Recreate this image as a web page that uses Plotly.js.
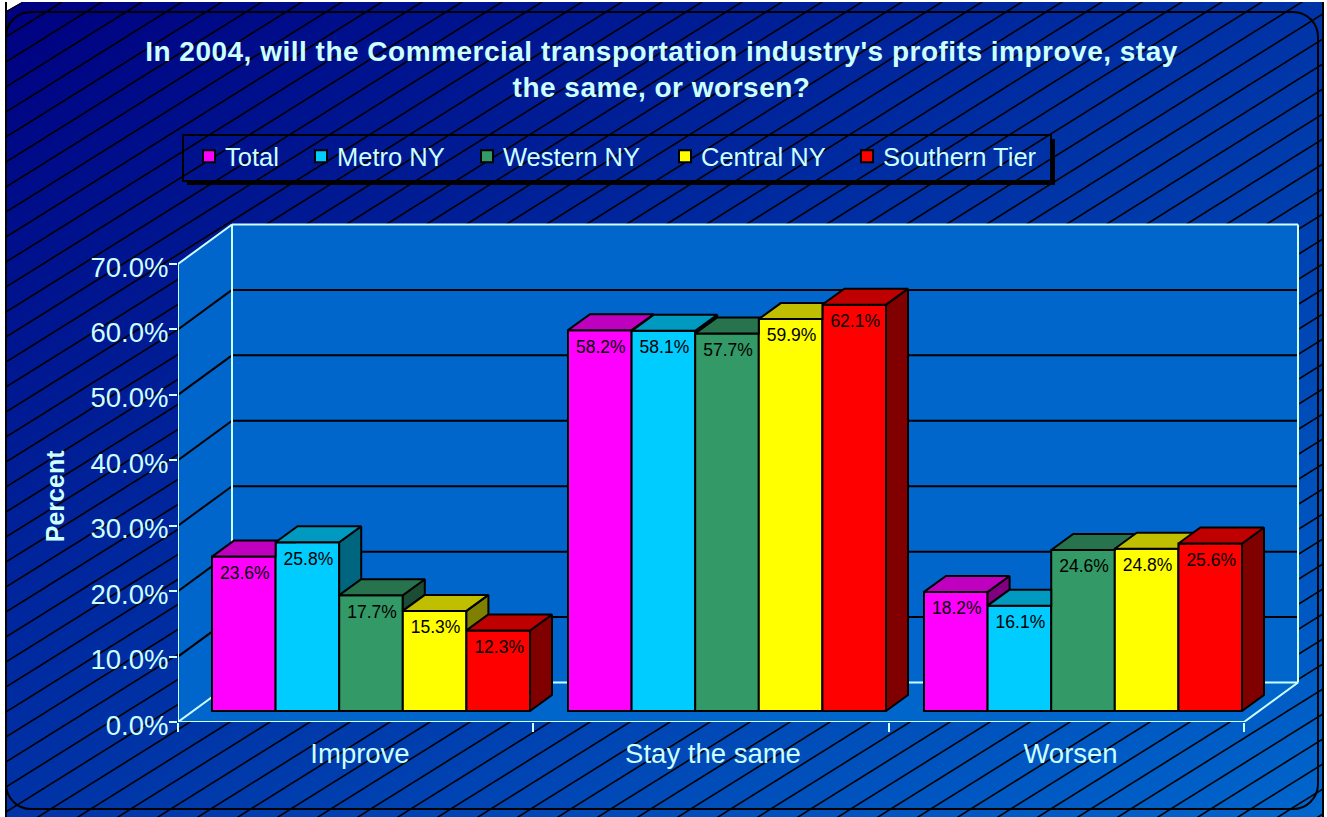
<!DOCTYPE html>
<html><head><meta charset="utf-8">
<script src="https://cdn.plot.ly/plotly-3.0.1.min.js"></script>
<style>
html,body{margin:0;padding:0;background:#fff;width:1327px;height:817px;overflow:hidden}
#bg{position:absolute;left:0;top:0}
#chart{position:absolute;left:0;top:0;width:1327px;height:817px}
.gtitle{letter-spacing:.5px}
</style></head><body>
<svg id="bg" width="1327" height="817" xmlns="http://www.w3.org/2000/svg">
<defs>
<linearGradient id="g" x1="0" y1="0" x2="1" y2="1"><stop offset="0" stop-color="#000080"/><stop offset="1" stop-color="#0066CC"/></linearGradient>
<pattern id="h" width="40" height="25" patternUnits="userSpaceOnUse" patternTransform="translate(6,12)">
<path d="M-10,31.25L50,-6.25M-10,6.25L10,-6.25M30,31.25L50,18.75" stroke="#000" stroke-width="1.5" fill="none"/>
</pattern></defs>
<path d="M6,11L22,2H1323V817H6Z" fill="url(#g)"/>
<path d="M6,11L22,2H1323V817H6Z" fill="url(#h)"/>
<path d="M6,2V817M1323,2V817" stroke="#000" stroke-width="2"/>
<rect x="6" y="12" width="1312" height="797" rx="25" ry="25" fill="none" stroke="#000" stroke-width="2"/>
</svg>
<div id="chart"></div>
<script>
const categories = ["Improve", "Stay the same", "Worsen"];
const seriesNames = ["Total", "Metro NY", "Western NY", "Central NY", "Southern Tier"];
const total = [23.6, 58.2, 18.2];
const metroNY = [25.8, 58.1, 16.1];
const westernNY = [17.7, 57.7, 24.6];
const centralNY = [15.3, 59.9, 24.8];
const southernTier = [12.3, 62.1, 25.6];
const yTicks = [0, 10, 20, 30, 40, 50, 60, 70];
const frontColors = ["#FF00FF", "#00CCFF", "#339966", "#FFFF00", "#FF0000"];
const topColors = ["#BF00BF", "#0099BF", "#26734D", "#BFBF00", "#BF0000"];
const sideColors = ["#800080", "#006680", "#1A4D33", "#808000", "#800000"];

const values = [total, metroNY, westernNY, centralNY, southernTier];
const LIGHT = "#CCFFFF";
const FONT = "Liberation Sans, Arial, sans-serif";

// scale (px per data unit) and plot box
const L = 178, R = 1302, T = 220, B = 722.5, W = 1327, H = 817;
const pxX = 356, pxY = 6.55, groupCentre0 = 371;
const xr = [(L - groupCentre0) / pxX, (R - groupCentre0) / pxX];
const yr = [0, (B - T) / pxY];
const toX = p => (p - groupCentre0) / pxX;   // pixel -> x
const wallDX = 54 / pxX, wallDY = 39.5 / pxY;
const barDX = 22 / pxX, barDY = 16 / pxY, baseOff = 11 / pxY;
const groupW = 318 / pxX, barW = groupW / 5;
const x0 = toX(178), x1 = toX(1244);
const yTop = yTicks[yTicks.length - 1];

const traces = [];
// front faces: real bars
values.forEach((v, s) => traces.push({
  type: "bar", name: seriesNames[s], x: [0, 1, 2], y: v,
  base: v.map(() => baseOff),
  marker: {color: frontColors[s], line: {color: "#000", width: 2}},
  hovertemplate: "%{fullData.name}: " + "%{customdata}%<extra></extra>", customdata: v
}));
// top and side faces
values.forEach((v, s) => {
  const tx = [], ty = [], sx = [], sy = [];
  v.forEach((val, g) => {
    const xa = g + (s - 2.5) * barW, xb = xa + barW;
    const yv = val + baseOff;
    const nextVal = s < 4 ? values[s + 1][g] + baseOff : baseOff;
    // top face, cut where the taller neighbour hides it
    if (nextVal > yv && s < 4) {
      const d = nextVal - yv;
      if (d >= barDY) {
        tx.push(xa, xb, xb, xa + barDX, xa, null);
        ty.push(yv, yv, yv + barDY, yv + barDY, yv, null);
      } else {
        tx.push(xa, xb, xb, xb + barDX * d / barDY, xb + barDX, xa + barDX, xa, null);
        ty.push(yv, yv, nextVal, nextVal, yv + barDY, yv + barDY, yv, null);
      }
    } else {
      tx.push(xa, xb, xb + barDX, xa + barDX, xa, null);
      ty.push(yv, yv, yv + barDY, yv + barDY, yv, null);
    }
    // side face, only above the neighbour
    if (nextVal < yv) {
      sx.push(xb, xb, xb + barDX, xb + barDX, xb, null);
      sy.push(nextVal, yv, yv + barDY, nextVal + barDY, nextVal, null);
    }
  });
  traces.push({type: "scatter", mode: "lines", x: sx, y: sy, fill: "toself", fillcolor: sideColors[s],
    line: {color: "#000", width: 2}, showlegend: false, hoverinfo: "skip"});
  traces.push({type: "scatter", mode: "lines", x: tx, y: ty, fill: "toself", fillcolor: topColors[s],
    line: {color: "#000", width: 2}, showlegend: false, hoverinfo: "skip"});
});
// data labels
values.forEach((v, s) => traces.push({
  type: "scatter", mode: "text", x: v.map((_, g) => g + (s - 2) * barW + 1 / pxX),
  y: v.map(val => val + baseOff - 18 / pxY), text: v.map(val => val.toFixed(1) + "%"),
  textposition: "middle center", textfont: {family: FONT, size: 17.5, color: "#000"},
  showlegend: false, hoverinfo: "skip"
}));
// outer axis lines (not clipped)
traces.push({type: "scatter", mode: "lines", cliponaxis: false, x: [x0, x0, x1], y: [yTop, 0, 0],
  line: {color: LIGHT, width: 2}, showlegend: false, hoverinfo: "skip"});

// walls, floor and gridlines below the bars
const shapes = [];
const poly = pts => "M" + pts.map(p => p[0] + "," + p[1]).join("L") + "Z";
const bx0 = x0 + wallDX, bx1 = x1 + wallDX;
const wallFill = "#0066CC";
[[[x0, 0], [bx0, wallDY], [bx0, yTop + wallDY], [x0, yTop]],
 [[bx0, wallDY], [bx1, wallDY], [bx1, yTop + wallDY], [bx0, yTop + wallDY]],
 [[x0, 0], [bx0, wallDY], [bx1, wallDY], [x1, 0]]].forEach(p => shapes.push({
  type: "path", xref: "x", yref: "y", layer: "below", path: poly(p), fillcolor: wallFill, line: {width: 0}}));
const seg = (xa, ya, xb, yb, c) => shapes.push({type: "line", xref: "x", yref: "y", layer: "below",
  x0: xa, y0: ya, x1: xb, y1: yb, line: {color: c, width: 2}});
yTicks.slice(1, -1).forEach(t => {
  seg(x0, t, bx0, t + wallDY, "#000");
  seg(bx0, t + wallDY, bx1, t + wallDY, "#000");
});
seg(x0, yTop, bx0, yTop + wallDY, LIGHT);
seg(bx0, yTop + wallDY, bx1, yTop + wallDY, LIGHT);
seg(bx1, yTop + wallDY, bx1, wallDY, LIGHT);
seg(bx0, yTop + wallDY, bx0, wallDY, LIGHT);
seg(bx0, wallDY, bx1, wallDY, LIGHT);
seg(x0, 0, bx0, wallDY, LIGHT);
seg(x1, 0, bx1, wallDY, LIGHT);

// legend shadow
const pX = p => (p - L) / (R - L), pY = p => (B - p) / (B - T);
shapes.push({type: "rect", xref: "paper", yref: "paper", layer: "below", x0: pX(187), x1: pX(1055), y0: pY(180), y1: pY(185), fillcolor: "#000", line: {width: 0}});
shapes.push({type: "rect", xref: "paper", yref: "paper", layer: "below", x0: pX(1050), x1: pX(1055), y0: pY(139), y1: pY(185), fillcolor: "#000", line: {width: 0}});

const layout = {
  width: W, height: H, autosize: false,
  margin: {l: L, r: W - R, t: T, b: H - B, pad: 0},
  paper_bgcolor: "rgba(0,0,0,0)", plot_bgcolor: "rgba(0,0,0,0)",
  font: {family: FONT, color: LIGHT},
  title: {text: "In 2004, will the Commercial transportation industry's profits improve, stay<br>the same, or worsen?",
    font: {family: FONT, size: 28, color: LIGHT, weight: 700}, x: 661.5 / W, xref: "container", xanchor: "center",
    y: 1 - 61 / H, yref: "container", yanchor: "top"},
  barmode: "group", bargap: 1 - groupW, bargroupgap: 0,
  xaxis: {range: xr, tickmode: "array", tickvals: [360, 713, 1070.5].map(toX), ticktext: categories,
    ticks: "outside", ticklen: 7, tickcolor: "rgba(0,0,0,0)", tickwidth: 1,
    minor: {tickmode: "array", tickvals: [0, 1, 2, 3].map(i => toX(178 + i * 355.33)), ticks: "outside", ticklen: 9, tickcolor: LIGHT, tickwidth: 2, showgrid: false},
    tickfont: {family: FONT, size: 27.5, color: LIGHT}, showgrid: false, zeroline: false, showline: false, fixedrange: true},
  yaxis: {range: yr, tickmode: "array", tickvals: yTicks, ticktext: yTicks.map(t => t.toFixed(1) + "%"),
    ticks: "outside", ticklen: 8, tickcolor: LIGHT, tickwidth: 2, ticklabelstandoff: -5, ticklabelshift: 3,
    tickfont: {family: FONT, size: 27.5, color: LIGHT}, showgrid: false, zeroline: false, showline: false, fixedrange: true},
  annotations: [{text: "Percent", textangle: -90, xref: "paper", yref: "paper", x: pX(55), y: pY(496.5),
    xanchor: "center", yanchor: "middle", showarrow: false, font: {family: FONT, size: 25, color: LIGHT, weight: 700}}],
  legend: {orientation: "h", x: pX(182), xanchor: "left", y: pY(134), yanchor: "top",
    font: {family: FONT, size: 25.5, color: LIGHT}, bgcolor: "rgba(0,0,0,0)", bordercolor: "#000", borderwidth: 2},
  shapes: shapes, showlegend: true
};
// legend entry text starts
const legendTextStart = [225, 337, 503, 701, 883];
Plotly.newPlot("chart", traces, layout, {displayModeBar: false, responsive: false}).then(() => {
  const leg = document.querySelector("#chart .legend");
  const box = leg.querySelector(".scrollbox");
  box.removeAttribute("clip-path");
  leg.querySelectorAll(".traces").forEach((g, i) => {
    const m = /translate\(([-\d.]+),\s*([-\d.]+)\)/.exec(g.getAttribute("transform"));
    const cur = g.querySelector(".legendtext").getBoundingClientRect().left;
    g.setAttribute("transform", "translate(" + (+m[1] + legendTextStart[i] - cur) + "," + (+m[2] - 3) + ")");
    const sw = g.querySelector(".legendpoints");
    if (sw) sw.setAttribute("transform", "translate(4,0)");
  });
  const bg = leg.querySelector(".bg");
  bg.setAttribute("width", 868);
  bg.setAttribute("height", 46);
});
</script>
</body></html>
